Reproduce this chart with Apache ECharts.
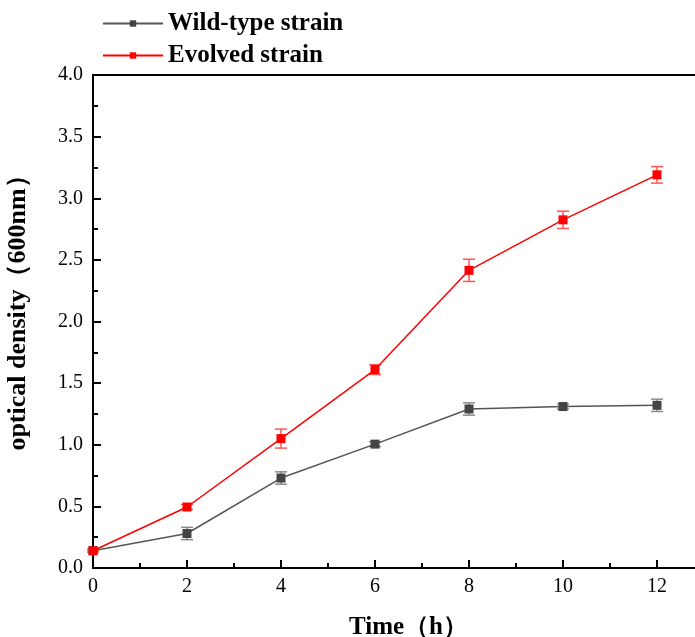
<!DOCTYPE html>
<html>
<head>
<meta charset="utf-8">
<script src="https://cdn.jsdelivr.net/npm/echarts@6/dist/echarts.min.js"></script>
<style>html,body{margin:0;padding:0;background:#fff}#c{width:695px;height:637px}</style>
</head>
<body>
<div id="c"></div>
<script>
var times = [0, 2, 4, 6, 8, 10, 12];
var wildMean = [0.14, 0.28, 0.73, 1.005, 1.29, 1.31, 1.32];
var wildErr = [0.01, 0.05, 0.05, 0.02, 0.05, 0.02, 0.05];
var evoMean = [0.14, 0.495, 1.05, 1.61, 2.415, 2.825, 3.19];
var evoErr = [0.01, 0.02, 0.077, 0.04, 0.09, 0.07, 0.067];
var yTicks = ['0.0','0.5','1.0','1.5','2.0','2.5','3.0','3.5','4.0'];

var FONT = '"Liberation Serif","Times New Roman",serif';

function pairs(m) { return times.map(function (t, i) { return [t, m[i]]; }); }
function errData(m, e) { return times.map(function (t, i) { return [t, m[i] - e[i], m[i] + e[i]]; }); }

function errSeries(name, m, e, color) {
  return {
    type: 'custom',
    name: name + ' err',
    data: errData(m, e),
    z: 1,
    silent: true,
    renderItem: function (params, api) {
      var x = api.value(0);
      var lo = api.coord([x, api.value(1)]);
      var hi = api.coord([x, api.value(2)]);
      var w = 6;
      var style = { stroke: color, lineWidth: 1.5 };
      return {
        type: 'group',
        children: [
          { type: 'line', shape: { x1: lo[0], y1: lo[1], x2: hi[0], y2: hi[1] }, style: style },
          { type: 'line', shape: { x1: lo[0] - w, y1: lo[1], x2: lo[0] + w, y2: lo[1] }, style: style },
          { type: 'line', shape: { x1: hi[0] - w, y1: hi[1], x2: hi[0] + w, y2: hi[1] }, style: style }
        ]
      };
    }
  };
}

var chart = echarts.init(document.getElementById('c'));
chart.setOption({
  animation: false,
  backgroundColor: '#fff',
  grid: { left: 93, top: 75, width: 611, height: 493, outerBoundsMode: 'none', containLabel: false,
    show: true, borderColor: '#000', borderWidth: 2, backgroundColor: 'transparent' },
  legend: {
    orient: 'vertical', left: 97, top: 6, itemGap: 7,
    itemWidth: 60, itemHeight: 8,
    textStyle: { fontFamily: FONT, fontSize: 25, fontWeight: 'bold', color: '#000' },
    data: ['Wild-type strain', 'Evolved strain']
  },
  xAxis: {
    type: 'value', min: 0, max: 13, interval: 2,
    name: 'Time（h）', nameLocation: 'middle', nameGap: 47,
    nameTextStyle: { fontFamily: FONT, fontSize: 25, fontWeight: 'bold', color: '#000', padding: [0, 0, 0, 20] },
    axisLine: { show: true, onZero: false, lineStyle: { color: '#000', width: 2 } },
    axisTick: { show: true, inside: true, length: 8, lineStyle: { color: '#000', width: 2 } },
    minorTick: { show: true, splitNumber: 2, length: 5, lineStyle: { color: '#000', width: 2 } },
    splitLine: { show: false },
    axisLabel: { margin: 9, fontFamily: FONT, fontSize: 20, color: '#000',
      formatter: function (v) { return v > 12 ? '' : String(v); } }
  },
  yAxis: {
    type: 'value', min: 0, max: 4, interval: 0.5,
    name: 'optical density（600nm）', nameLocation: 'middle', nameGap: 62,
    nameTextStyle: { fontFamily: FONT, fontSize: 26, fontWeight: 'bold', color: '#000', padding: [0, 0, 0, 30] },
    axisLine: { show: true, lineStyle: { color: '#000', width: 2 } },
    axisTick: { show: true, inside: true, length: 8, lineStyle: { color: '#000', width: 2 } },
    minorTick: { show: true, splitNumber: 2, length: 5, lineStyle: { color: '#000', width: 2 } },
    splitLine: { show: false },
    axisLabel: { margin: 10, fontFamily: FONT, fontSize: 20, color: '#000',
      formatter: function (v) { return yTicks[Math.round(v / 0.5)]; } }
  },
  series: [
    errSeries('Wild-type strain', wildMean, wildErr, '#8a8a8a'),
    errSeries('Evolved strain', evoMean, evoErr, '#ff5555'),
    {
      type: 'line', name: 'Wild-type strain', data: pairs(wildMean), z: 3,
      symbol: 'rect', symbolSize: 9,
      lineStyle: { color: '#555555', width: 1.5 },
      itemStyle: { color: '#444444' }
    },
    {
      type: 'line', name: 'Evolved strain', data: pairs(evoMean), z: 4,
      symbol: 'rect', symbolSize: 9,
      lineStyle: { color: '#ff0000', width: 1.5 },
      itemStyle: { color: '#ff0000' }
    }
  ]
});
</script>
</body>
</html>
